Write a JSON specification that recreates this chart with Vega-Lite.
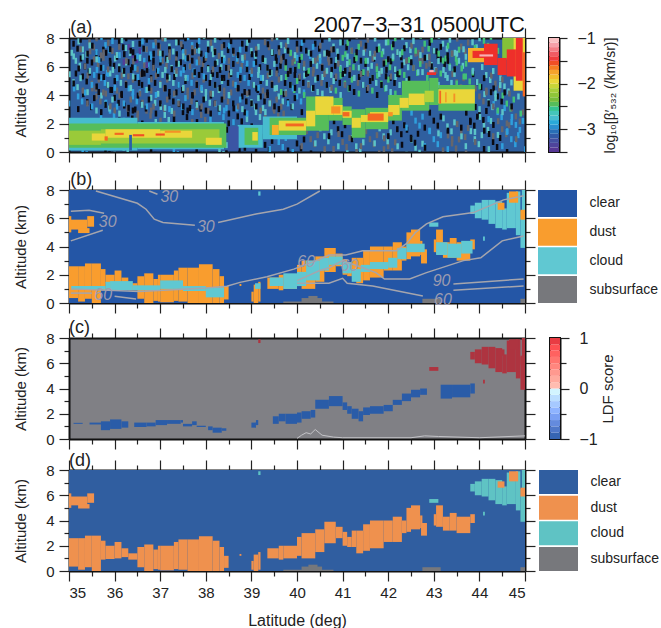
{"$schema":"https://vega.github.io/schema/vega-lite/v6.json","padding":{"left":13,"top":14,"right":0,"bottom":0},"spacing":4,"resolve":{"scale":{"color":"independent"}},
"config":{"font":"Liberation Sans","view":{"stroke":null},"rect":{"binSpacing":0},"axis":{"grid":false,"domainWidth":2,"domainColor":"#111","tickColor":"#222","tickWidth":1.2,"labelColor":"#222","titleColor":"#222","labelFontSize":15,"titleFontSize":15,"titleFontWeight":"normal","zindex":1},
"axisX":{"tickCount":20,"labels":false,"title":null,"tickSize":{"condition":{"test":"datum.value%1==0","value":10},"value":5}},
"axisY":{"tickCount":8,"tickSize":{"condition":{"test":"datum.value%2==0","value":10},"value":5}}},
"datasets":{
"noise":[{"x":35.1,"y":7.6,"v":-3.8},{"x":35.3,"y":7.2,"v":-2.7},{"x":35.45,"y":7.7,"v":-3.6},{"x":35.6,"y":6.9,"v":-3.8},{"x":35.8,"y":7.5,"v":-2.9},{"x":35.95,"y":7.1,"v":-3.6},{"x":36.1,"y":7.7,"v":-3.8},{"x":36.25,"y":7.3,"v":-2.7},{"x":36.4,"y":6.8,"v":-3.4},{"x":36.55,"y":7.6,"v":-3.8},{"x":36.7,"y":7.2,"v":-2.9},{"x":36.9,"y":7.7,"v":-3.6},{"x":37.05,"y":6.9,"v":-3.8},{"x":37.2,"y":7.4,"v":-2.7},{"x":37.4,"y":7.7,"v":-3.8},{"x":37.55,"y":7,"v":-3.6},{"x":37.7,"y":7.5,"v":-2.9},{"x":37.9,"y":6.9,"v":-3.8},{"x":38.05,"y":7.6,"v":-2.7},{"x":38.2,"y":7.1,"v":-3.6},{"x":38.4,"y":7.5,"v":-3.8},{"x":38.6,"y":6.9,"v":-2.9},{"x":38.8,"y":7.6,"v":-3.8},{"x":39,"y":7.1,"v":-2.7},{"x":39.3,"y":7.7,"v":-3.6},{"x":39.45,"y":7,"v":-3.8},{"x":39.65,"y":7.5,"v":-2.7},{"x":39.85,"y":6.9,"v":-3.6},{"x":40,"y":7.6,"v":-3.8},{"x":40.2,"y":7.1,"v":-2.9},{"x":40.4,"y":7.6,"v":-3.8},{"x":40.6,"y":6.9,"v":-3.6},{"x":40.8,"y":7.4,"v":-2.7},{"x":41,"y":7.7,"v":-3.8},{"x":41.2,"y":7.1,"v":-2.5},{"x":41.4,"y":7.6,"v":-3.6},{"x":41.6,"y":6.9,"v":-3.8},{"x":41.8,"y":7.4,"v":-2.7},{"x":42,"y":7.7,"v":-2.5},{"x":42.2,"y":7,"v":-3.8},{"x":42.4,"y":7.5,"v":-2.7},{"x":42.6,"y":6.9,"v":-3.6},{"x":42.8,"y":7.6,"v":-2.5},{"x":43,"y":7.1,"v":-3.8},{"x":43.2,"y":7.6,"v":-2.7},{"x":43.4,"y":6.9,"v":-2.5},{"x":43.6,"y":7.4,"v":-3.6},{"x":43.85,"y":7.7,"v":-2.7},{"x":44.1,"y":7.8,"v":-2.5},
{"x":35.15,"y":6.4,"v":-2.7},{"x":35.35,"y":6,"v":-3.8},{"x":35.55,"y":6.5,"v":-3.6},{"x":35.75,"y":5.9,"v":-2.9},{"x":35.9,"y":6.4,"v":-3.8},{"x":36.1,"y":6,"v":-2.7},{"x":36.3,"y":6.3,"v":-3.8},{"x":36.5,"y":5.8,"v":-3.6},{"x":36.65,"y":6.4,"v":-2.9},{"x":36.85,"y":6,"v":-3.8},{"x":37.05,"y":6.4,"v":-3.6},{"x":37.25,"y":5.9,"v":-2.7},{"x":37.45,"y":6.3,"v":-3.8},{"x":37.65,"y":6,"v":-2.9},{"x":37.85,"y":6.5,"v":-3.6},{"x":38.05,"y":5.9,"v":-3.8},{"x":38.25,"y":6.3,"v":-2.7},{"x":38.45,"y":5.9,"v":-3.8},{"x":38.7,"y":6.4,"v":-3.6},{"x":38.9,"y":5.9,"v":-2.9},{"x":39.1,"y":6.3,"v":-3.8},{"x":39.35,"y":5.9,"v":-2.7},{"x":39.55,"y":6.4,"v":-3.8},{"x":39.75,"y":6,"v":-3.6},{"x":39.95,"y":6.4,"v":-2.5},{"x":40.15,"y":5.9,"v":-3.8},{"x":40.35,"y":6.4,"v":-2.7},{"x":40.55,"y":6,"v":-3.6},{"x":40.75,"y":6.4,"v":-3.8},{"x":40.95,"y":5.9,"v":-2.7},{"x":41.15,"y":6.3,"v":-2.5},{"x":41.35,"y":5.9,"v":-3.8},{"x":41.55,"y":6.4,"v":-2.7},{"x":41.75,"y":6,"v":-3.6},{"x":41.95,"y":6.3,"v":-2.5},{"x":42.15,"y":5.8,"v":-3.8},{"x":42.35,"y":6.3,"v":-2.7},{"x":42.55,"y":5.9,"v":-2.5},{"x":42.75,"y":6.4,"v":-3.6},{"x":42.95,"y":6.1,"v":-2.7},{"x":43.15,"y":6.5,"v":-3.8},{"x":43.35,"y":6,"v":-2.5},{"x":43.55,"y":6.4,"v":-2.7},
{"x":35.1,"y":4.9,"v":-2.7},{"x":35.3,"y":5.3,"v":-3.8},{"x":35.5,"y":4.8,"v":-3.6},{"x":35.7,"y":5.2,"v":-2.9},{"x":35.85,"y":4.7,"v":-3.8},{"x":36.05,"y":5.2,"v":-2.7},{"x":36.25,"y":4.8,"v":-3.6},{"x":36.45,"y":5.2,"v":-3.8},{"x":36.6,"y":4.7,"v":-2.9},{"x":36.8,"y":5.2,"v":-3.8},{"x":37,"y":4.8,"v":-3.6},{"x":37.2,"y":5.2,"v":-2.7},{"x":37.4,"y":4.7,"v":-3.8},{"x":37.6,"y":5.2,"v":-2.9},{"x":37.8,"y":4.8,"v":-3.6},{"x":38,"y":5.2,"v":-3.8},{"x":38.2,"y":4.7,"v":-2.7},{"x":38.4,"y":5.2,"v":-3.8},{"x":38.6,"y":4.8,"v":-3.6},{"x":38.85,"y":5.2,"v":-2.9},{"x":39.05,"y":4.7,"v":-3.8},{"x":39.25,"y":5.2,"v":-2.7},{"x":39.45,"y":4.8,"v":-3.6},{"x":39.65,"y":5.2,"v":-3.8},{"x":39.85,"y":4.7,"v":-2.5},{"x":40.05,"y":5.2,"v":-3.8},{"x":40.25,"y":4.8,"v":-2.7},{"x":40.45,"y":5.2,"v":-3.6},{"x":40.65,"y":4.7,"v":-2.7},{"x":40.85,"y":5.2,"v":-3.8},{"x":41.05,"y":4.8,"v":-2.5},{"x":41.25,"y":5.2,"v":-3.6},{"x":41.45,"y":4.7,"v":-3.8},{"x":41.65,"y":5.2,"v":-2.7},{"x":41.85,"y":4.8,"v":-2.5},{"x":42.05,"y":5.2,"v":-3.8},{"x":42.25,"y":4.7,"v":-2.7},{"x":43.3,"y":5.2,"v":-2.7},{"x":43.5,"y":4.9,"v":-3.6},{"x":43.7,"y":5.3,"v":-2.5},{"x":43.95,"y":4.9,"v":-3.8},{"x":44.15,"y":5.4,"v":-2.7},{"x":44.35,"y":4.8,"v":-3.6},{"x":44.55,"y":4.6,"v":-2.7},
{"x":35.2,"y":3.9,"v":-2.9},{"x":35.4,"y":3.5,"v":-3.8},{"x":35.6,"y":3.9,"v":-3.6},{"x":35.8,"y":3.4,"v":-2.7},{"x":36,"y":3.8,"v":-3.8},{"x":36.2,"y":3.4,"v":-3.6},{"x":36.4,"y":3.9,"v":-2.9},{"x":36.6,"y":3.4,"v":-3.8},{"x":36.8,"y":3.8,"v":-2.7},{"x":37,"y":3.4,"v":-3.6},{"x":37.2,"y":3.9,"v":-3.8},{"x":37.4,"y":3.5,"v":-2.9},{"x":37.6,"y":3.9,"v":-3.6},{"x":37.8,"y":3.4,"v":-3.8},{"x":38,"y":3.8,"v":-2.7},{"x":38.2,"y":3.4,"v":-3.8},{"x":38.4,"y":3.9,"v":-3.6},{"x":38.6,"y":3.4,"v":-2.9},{"x":38.8,"y":3.9,"v":-3.8},{"x":39,"y":3.5,"v":-2.7},{"x":39.2,"y":3.9,"v":-3.8},{"x":39.4,"y":3.4,"v":-3.6},{"x":39.6,"y":3.9,"v":-2.7},{"x":39.8,"y":3.5,"v":-3.8},{"x":40,"y":3.9,"v":-2.9},{"x":44,"y":3.9,"v":-3.6},{"x":44.2,"y":3.5,"v":-2.7},{"x":44.4,"y":3.9,"v":-3.8},{"x":44.6,"y":3.4,"v":-2.5},
{"x":35.9,"y":2.9,"v":-2.9},{"x":36.3,"y":2.7,"v":-3.8},{"x":36.7,"y":2.9,"v":-3.6},{"x":37.1,"y":2.6,"v":-2.7},{"x":37.5,"y":2.8,"v":-3.8},{"x":37.9,"y":2.6,"v":-3.6},{"x":38.3,"y":2.8,"v":-2.9},{"x":38.7,"y":2.5,"v":-3.8},{"x":39.1,"y":2.8,"v":-2.7},{"x":39.5,"y":2.9,"v":-3.6},{"x":44,"y":2.6,"v":-3.8},{"x":44.4,"y":2.8,"v":-2.9},{"x":44.8,"y":2.5,"v":-3.6},
{"x":43.8,"y":2.2,"v":-3.8},{"x":44.1,"y":1.9,"v":-2.7},{"x":44.5,"y":1.6,"v":-3.6},{"x":44.8,"y":1.9,"v":-2.9},{"x":43,"y":2.2,"v":-3.8},{"x":43.3,"y":1.8,"v":-2.7},{"x":43.6,"y":1.4,"v":-3.6},{"x":42.6,"y":2.2,"v":-2.9},{"x":42.2,"y":1.6,"v":-3.8},{"x":41.9,"y":1.1,"v":-2.7},{"x":41.6,"y":0.9,"v":-3.6},{"x":42.5,"y":1,"v":-3.8},{"x":43,"y":0.9,"v":-2.9},{"x":43.4,"y":0.6,"v":-3.6},{"x":43.9,"y":0.9,"v":-2.7},{"x":44.3,"y":0.7,"v":-3.8},{"x":44.7,"y":0.9,"v":-2.9},{"x":40.9,"y":1.6,"v":-3.8},{"x":40.6,"y":1.1,"v":-2.7},{"x":40.3,"y":0.9,"v":-3.6},{"x":40,"y":0.6,"v":-3.8},{"x":39.6,"y":0.7,"v":-2.9},{"x":39.3,"y":0.5,"v":-3.8},{"x":41,"y":0.7,"v":-3.6},{"x":41.3,"y":0.4,"v":-2.7},{"x":42,"y":0.4,"v":-3.6},{"x":42.6,"y":0.3,"v":-2.7},{"x":35.3,"y":0.2,"v":-2.9},{"x":35.8,"y":0.2,"v":-3.8},{"x":36.2,"y":0.3,"v":-2.7},{"x":36.8,"y":0.15,"v":-3.8},{"x":37.3,"y":0.2,"v":-2.9},{"x":37.8,"y":0.15,"v":-3.8},{"x":38.3,"y":0.2,"v":-2.7},{"x":38.55,"y":1,"v":-3.8},{"x":38.65,"y":0.4,"v":-3.8}],
"dust":[{"x":35,"x2":35.4,"y":5.2,"y2":5.9,"c":"dust"},{"x":35,"x2":35.05,"y":5.0,"y2":6.15,"c":"dust"},{"x":35.2,"x2":35.45,"y":4.95,"y2":5.3,"c":"dust"},{"x":35.4,"x2":35.55,"y":5.4,"y2":6.15,"c":"dust"},
{"x":35,"x2":35.2,"y":0.35,"y2":2.6,"c":"dust"},{"x":35.2,"x2":35.35,"y":0.1,"y2":2.6,"c":"dust"},{"x":35.35,"x2":35.5,"y":0.3,"y2":2.8,"c":"dust"},{"x":35.5,"x2":35.7,"y":0,"y2":2.8,"c":"dust"},{"x":35.7,"x2":35.8,"y":0.9,"y2":2.4,"c":"dust"},{"x":35.8,"x2":36,"y":0.95,"y2":2.0,"c":"dust"},{"x":36,"x2":36.15,"y":1,"y2":2.3,"c":"dust"},{"x":36.15,"x2":36.3,"y":1.1,"y2":1.8,"c":"dust"},{"x":36.3,"x2":36.5,"y":0.9,"y2":1.4,"c":"dust"},{"x":36.5,"x2":36.65,"y":0.3,"y2":1.9,"c":"dust"},{"x":36.65,"x2":36.85,"y":0,"y2":2.1,"c":"dust"},{"x":36.85,"x2":36.95,"y":0.15,"y2":1.7,"c":"dust"},{"x":36.95,"x2":37,"y":0.1,"y2":2.0,"c":"dust"},{"x":37,"x2":37.3,"y":0.05,"y2":2.0,"c":"dust"},{"x":37.3,"x2":37.4,"y":0.15,"y2":2.3,"c":"dust"},{"x":37.4,"x2":37.6,"y":0.1,"y2":2.5,"c":"dust"},{"x":37.6,"x2":37.85,"y":0,"y2":2.5,"c":"dust"},{"x":37.85,"x2":38.15,"y":0,"y2":2.75,"c":"dust"},{"x":38.15,"x2":38.3,"y":0,"y2":2.4,"c":"dust"},{"x":38.3,"x2":38.4,"y":0,"y2":1.9,"c":"dust"},{"x":38.4,"x2":38.5,"y":0.25,"y2":1.2,"c":"dust"},{"x":38.74,"x2":38.78,"y":1.2,"y2":1.35,"c":"dust"},
{"x":39,"x2":39.05,"y":0.1,"y2":0.8,"c":"dust"},{"x":39.05,"x2":39.15,"y":0,"y2":1.3,"c":"dust"},{"x":39.15,"x2":39.2,"y":0.1,"y2":1.5,"c":"dust"},{"x":39.35,"x2":39.6,"y":1,"y2":1.8,"c":"dust"},{"x":39.6,"x2":39.7,"y":0.9,"y2":2,"c":"dust"},{"x":39.7,"x2":40,"y":1,"y2":2,"c":"dust"},{"x":40,"x2":40.1,"y":1.2,"y2":2.7,"c":"dust"},{"x":40.1,"x2":40.4,"y":1,"y2":3,"c":"dust"},{"x":40.4,"x2":40.6,"y":1.5,"y2":3.3,"c":"dust"},{"x":40.6,"x2":40.85,"y":2.2,"y2":3.9,"c":"dust"},{"x":40.85,"x2":41,"y":2.6,"y2":3.5,"c":"dust"},{"x":41,"x2":41.1,"y":2,"y2":3.1,"c":"dust"},{"x":41.1,"x2":41.2,"y":1.9,"y2":2.7,"c":"dust"},{"x":41.2,"x2":41.3,"y":1.9,"y2":3.2,"c":"dust"},{"x":41.3,"x2":41.45,"y":1.4,"y2":3.2,"c":"dust"},{"x":41.45,"x2":41.6,"y":1.6,"y2":3.7,"c":"dust"},{"x":41.6,"x2":41.9,"y":1.8,"y2":4,"c":"dust"},{"x":41.9,"x2":42.1,"y":2.3,"y2":4,"c":"dust"},{"x":42.1,"x2":42.3,"y":2.3,"y2":4.3,"c":"dust"},{"x":42.3,"x2":42.4,"y":3,"y2":4,"c":"dust"},{"x":42.4,"x2":42.5,"y":3.1,"y2":5,"c":"dust"},{"x":42.5,"x2":42.7,"y":3.3,"y2":5.2,"c":"dust"},{"x":42.7,"x2":42.75,"y":3.4,"y2":4.4,"c":"dust"},{"x":42.72,"x2":42.85,"y":2.8,"y2":3.8,"c":"dust"},{"x":43,"x2":43.05,"y":3.6,"y2":4.5,"c":"dust"},{"x":43.05,"x2":43.2,"y":3.5,"y2":5.2,"c":"dust"},{"x":43.2,"x2":43.35,"y":3.2,"y2":4.3,"c":"dust"},{"x":43.35,"x2":43.5,"y":3.2,"y2":4.6,"c":"dust"},{"x":43.5,"x2":43.8,"y":3,"y2":4.3,"c":"dust"},{"x":43.8,"x2":43.9,"y":3.8,"y2":4.5,"c":"dust"}],
"top":[{"x":43.8,"x2":43.9,"y":6.3,"y2":6.9,"c":"cloud"},{"x":43.9,"x2":44.05,"y":6,"y2":7.1,"c":"cloud"},{"x":44.05,"x2":44.2,"y":5.9,"y2":7.3,"c":"cloud"},{"x":44.2,"x2":44.35,"y":5.6,"y2":7.3,"c":"cloud"},{"x":44.35,"x2":44.5,"y":5.3,"y2":7.2,"c":"cloud"},{"x":44.5,"x2":44.6,"y":5.2,"y2":6.7,"c":"cloud"},{"x":44.6,"x2":44.8,"y":5.3,"y2":7.8,"c":"cloud"},{"x":44.8,"x2":44.9,"y":4.8,"y2":7.9,"c":"cloud"},{"x":44.9,"x2":45,"y":3.9,"y2":6.5,"c":"cloud"},{"x":44.93,"x2":45,"y":6.5,"y2":8,"c":"cloud"},{"x":42.9,"x2":43.1,"y":5.4,"y2":5.7,"c":"cloud"},{"x":44.08,"x2":44.12,"y":4.4,"y2":4.7,"c":"cloud"},{"x":39.15,"x2":39.2,"y":7.6,"y2":7.9,"c":"cloud"},{"x":44.4,"x2":44.55,"y":6.6,"y2":7.1,"c":"dust"},{"x":44.65,"x2":44.85,"y":7.1,"y2":7.9,"c":"dust"},{"x":44.9,"x2":45,"y":5.9,"y2":6.6,"c":"dust"}],
"sub":[{"x":39.7,"x2":40.8,"y":0,"y2":0.1,"c":"subsurface"},{"x":40.1,"x2":40.55,"y":0,"y2":0.35,"c":"subsurface"},{"x":40.25,"x2":40.45,"y":0,"y2":0.5,"c":"subsurface"},{"x":42.75,"x2":43.15,"y":0,"y2":0.3,"c":"subsurface"},{"x":44.9,"x2":45,"y":0,"y2":0.3,"c":"subsurface"}],
"base":[{"x":35,"x2":45,"y":0,"y2":8,"c":"clear"}],
"sw":[{"c":"clear"},{"c":"dust"},{"c":"cloud"},{"c":"subsurface"}]},
"vconcat":[{"spacing":8,"resolve":{"scale":{"color":"independent"}},"vconcat":[
{"spacing":12,"resolve":{"scale":{"color":"independent"}},"hconcat":[
{"width":456,"height":114,"view":{"fill":"#2f5f9f"},"resolve":{"axis":{"x":"independent","y":"independent"}},
"encoding":{"x":{"field":"x","type":"quantitative","axis":null},"y":{"field":"y","type":"quantitative","axis":null},"color":{"field":"v","type":"quantitative","legend":null,"scale":{"domain":[-3.8,-3.6,-3.5,-3.3,-3.1,-2.9,-2.7,-2.4,-2.14,-1.96,-1.74,-1.5,-1.33,-1.15,-1],"range":["#0a0a12","#66666c","#5a2f8f","#4a4a9e","#2a5fa8","#2f9fdc","#5cc4c8","#6db83a","#a8cf3a","#e8d93c","#f5a02c","#ee2f2a","#f0606a","#f6a0a8","#f9d0d0"]}}},
"layer":[
{"data":{"name":"noise"},"mark":{"type":"rect","clip":true,"width":2.5,"height":6},"encoding":{"x":{"field":"x","type":"quantitative","scale":{"domain":[35,45],"nice":false,"zero":false},"axis":{"orient":"bottom"}},"y":{"field":"y","type":"quantitative","scale":{"domain":[0,8],"nice":false,"zero":false},"axis":{"orient":"left","title":"Altitude (km)","labelExpr":"datum.value%2==0?datum.label:''","labelPadding":5,"titlePadding":17}}}},
{"data":{"name":"noise"},"mark":{"type":"rect","clip":true,"width":2.5,"height":6,"xOffset":4,"yOffset":5}},
{"data":{"name":"noise"},"mark":{"type":"rect","clip":true,"width":2.5,"height":6,"xOffset":-4,"yOffset":-8}},
{"data":{"name":"noise"},"mark":{"type":"rect","clip":true,"width":2.5,"height":6,"xOffset":7,"yOffset":-4}},
{"data":{"name":"noise"},"mark":{"type":"rect","clip":true,"width":2.5,"height":6,"xOffset":-9,"yOffset":7}},
{"data":{"name":"noise"},"mark":{"type":"rect","clip":true,"width":2.5,"height":6,"xOffset":14,"yOffset":10}},
{"data":{"values":[{"x":35,"x2":36.5,"y":0.1,"y2":2.4,"v":-2.75},{"x":36.5,"x2":38.4,"y":0.2,"y2":2.1,"v":-2.75},{"x":38.7,"x2":39.25,"y":0.3,"y2":1.9,"v":-2.75},{"x":39.25,"x2":40,"y":0.9,"y2":2.5,"v":-2.75},{"x":35,"x2":38.45,"y":0.3,"y2":2,"v":-2.45},{"x":38.85,"x2":39.15,"y":0.5,"y2":1.7,"v":-2.45},{"x":39.4,"x2":40.2,"y":1.2,"y2":2.4,"v":-2.45},{"x":40.2,"x2":40.7,"y":1.5,"y2":3.9,"v":-2.45},{"x":40.7,"x2":41,"y":2.2,"y2":3.8,"v":-2.45},{"x":41,"x2":41.2,"y":1.9,"y2":3.2,"v":-2.45},{"x":41.2,"x2":41.5,"y":1,"y2":3,"v":-2.45},{"x":41.5,"x2":42,"y":1.6,"y2":3.1,"v":-2.45},{"x":42,"x2":42.3,"y":2.2,"y2":4,"v":-2.45},{"x":42.3,"x2":42.9,"y":2.9,"y2":5,"v":-2.45},{"x":42.9,"x2":43.1,"y":3.3,"y2":5.2,"v":-2.45},{"x":43.1,"x2":43.9,"y":2.9,"y2":4.7,"v":-2.45},
{"x":35,"x2":35.7,"y":0.5,"y2":1.5,"v":-2.2},{"x":35.7,"x2":38.3,"y":0.6,"y2":1.6,"v":-2.2},{"x":35.5,"x2":35.8,"y":0.8,"y2":1.3,"v":-1.95},{"x":35.8,"x2":37,"y":1,"y2":1.6,"v":-1.95},{"x":37,"x2":37.7,"y":1,"y2":1.5,"v":-1.95},{"x":38,"x2":38.35,"y":0.5,"y2":1,"v":-1.95},{"x":39.02,"x2":39.14,"y":0.8,"y2":1.4,"v":-1.95},{"x":39.45,"x2":39.6,"y":1.2,"y2":1.9,"v":-1.8},{"x":39.6,"x2":40.2,"y":1.5,"y2":2.2,"v":-1.95},{"x":40.2,"x2":40.4,"y":1.8,"y2":2.9,"v":-1.95},{"x":40.4,"x2":40.8,"y":2.6,"y2":3.9,"v":-1.95},{"x":40.8,"x2":41,"y":2.6,"y2":3.3,"v":-1.95},{"x":41,"x2":41.2,"y":2.4,"y2":2.9,"v":-1.95},{"x":41.2,"x2":41.4,"y":1.7,"y2":2.4,"v":-1.95},{"x":41.4,"x2":41.6,"y":2.1,"y2":2.6,"v":-1.95},{"x":41.6,"x2":42,"y":2.1,"y2":2.8,"v":-1.95},{"x":42,"x2":42.25,"y":2.6,"y2":3.3,"v":-1.95},{"x":42.25,"x2":42.45,"y":3.1,"y2":3.8,"v":-1.95},{"x":42.45,"x2":42.8,"y":3.3,"y2":4.1,"v":-1.95},{"x":42.8,"x2":43,"y":3.5,"y2":4.3,"v":-2.1},{"x":43.1,"x2":43.9,"y":3.4,"y2":4.4,"v":-1.95},
{"x":35.78,"x2":35.85,"y":0.8,"y2":1.1,"v":-1.6},{"x":36,"x2":36.2,"y":1.2,"y2":1.35,"v":-1.6},{"x":36.4,"x2":36.65,"y":1.1,"y2":1.25,"v":-1.55},{"x":36.9,"x2":37.1,"y":1.15,"y2":1.3,"v":-1.55},{"x":37.1,"x2":37.45,"y":1.35,"y2":1.5,"v":-1.7},{"x":39.75,"x2":40.15,"y":1.8,"y2":2,"v":-1.6},{"x":40.75,"x2":40.95,"y":2.7,"y2":3.2,"v":-1.7},{"x":41,"x2":41.15,"y":2.5,"y2":2.8,"v":-1.6},{"x":41.55,"x2":41.9,"y":2.2,"y2":2.7,"v":-1.6},{"x":42,"x2":42.1,"y":2.5,"y2":2.8,"v":-1.7},{"x":43.12,"x2":43.16,"y":3.4,"y2":4.3,"v":-1.6},{"x":43.25,"x2":43.28,"y":3.5,"y2":4.2,"v":-1.7},{"x":43.43,"x2":43.47,"y":3.5,"y2":4.1,"v":-1.7},
{"x":36.32,"x2":36.38,"y":0.1,"y2":1.2,"v":-3.1},{"x":38.5,"x2":38.72,"y":0.1,"y2":1.8,"v":-3.2},{"x":42.85,"x2":43.05,"y":5.4,"y2":5.6,"v":-1.5},{"x":42.9,"x2":43,"y":5.6,"y2":5.75,"v":-1.1},
{"x":44.5,"x2":45,"y":6.5,"y2":8,"v":-2.3},{"x":44.75,"x2":45,"y":4.3,"y2":8,"v":-1.95},{"x":43.75,"x2":44.2,"y":6.3,"y2":7.3,"v":-1.8},{"x":43.85,"x2":44.1,"y":6.6,"y2":7.1,"v":-1.5},{"x":44.1,"x2":44.4,"y":6.1,"y2":7.6,"v":-1.5},{"x":44.4,"x2":44.6,"y":5.4,"y2":6.6,"v":-1.5},{"x":44.6,"x2":44.8,"y":5.3,"y2":7.2,"v":-1.5},{"x":44.8,"x2":44.95,"y":5,"y2":8,"v":-1.5},{"x":44.95,"x2":45,"y":3.9,"y2":7,"v":-1.6},{"x":44,"x2":44.3,"y":6.7,"y2":6.85,"v":-1.1}]},
"mark":{"type":"rect","clip":true},"encoding":{"x2":{"field":"x2"},"y2":{"field":"y2"}}},
{"data":{"values":[{"x":45,"y":8.4,"t":"2007−3−31 0500UTC"}]},"mark":{"type":"text","fontSize":22,"baseline":"alphabetic","align":"right"},"encoding":{"text":{"field":"t"},"color":{"value":"#111"}}},
{"data":{"values":[{"x":35.03,"y":8.35,"t":"(a)"}]},"mark":{"type":"text","fontSize":18,"baseline":"alphabetic","align":"left"},"encoding":{"color":{"value":"#222"},"text":{"field":"t"},
"x":{"field":"x","type":"quantitative","scale":{"domain":[35,45],"nice":false,"zero":false},"axis":{"orient":"top"}},"y":{"field":"y","type":"quantitative","scale":{"domain":[0,8],"nice":false,"zero":false},"axis":{"orient":"right","labels":false,"title":null}}}}
]},
{"width":10,"height":114,"data":{"values":[{"y":-3.5,"y2":-3.4,"v":-3.45},{"y":-3.4,"y2":-3.3,"v":-3.35},{"y":-3.3,"y2":-3.2,"v":-3.25},{"y":-3.2,"y2":-3.1,"v":-3.15},{"y":-3.1,"y2":-3,"v":-3.05},{"y":-3,"y2":-2.9,"v":-2.95},{"y":-2.9,"y2":-2.8,"v":-2.85},{"y":-2.8,"y2":-2.7,"v":-2.75},{"y":-2.7,"y2":-2.6,"v":-2.65},{"y":-2.6,"y2":-2.5,"v":-2.55},{"y":-2.5,"y2":-2.4,"v":-2.45},{"y":-2.4,"y2":-2.3,"v":-2.35},{"y":-2.3,"y2":-2.2,"v":-2.25},{"y":-2.2,"y2":-2.1,"v":-2.15},{"y":-2.1,"y2":-2,"v":-2.05},{"y":-2,"y2":-1.9,"v":-1.95},{"y":-1.9,"y2":-1.8,"v":-1.85},{"y":-1.8,"y2":-1.7,"v":-1.75},{"y":-1.7,"y2":-1.6,"v":-1.65},{"y":-1.6,"y2":-1.5,"v":-1.55},{"y":-1.5,"y2":-1.4,"v":-1.45},{"y":-1.4,"y2":-1.3,"v":-1.35},{"y":-1.3,"y2":-1.2,"v":-1.25},{"y":-1.2,"y2":-1.1,"v":-1.15},{"y":-1.1,"y2":-1,"v":-1.05}]},"mark":"rect","view":{"stroke":"#111","strokeWidth":2},"encoding":{"y":{"field":"y","type":"quantitative","scale":{"domain":[-3.5,-1],"nice":false,"zero":false},"axis":{"orient":"right","values":[-1,-1.5,-2,-2.5,-3,-3.5],"title":"log₁₀[β′₅₃₂ (/km/sr)]","titleAngle":270,"titleFontSize":14,"labelExpr":"datum.value==-1?'−1':datum.value==-2?'−2':datum.value==-3?'−3':''","labelFontSize":16,"labelPadding":10,"titlePadding":22,"tickSize":8}},"y2":{"field":"y2"},"color":{"field":"v","type":"quantitative","legend":null,"scale":{"domain":[-3.5,-3.3,-3.1,-2.9,-2.7,-2.4,-2.14,-1.96,-1.74,-1.5,-1.33,-1.15,-1],"range":["#5a2f8f","#4a4a9e","#2a5fa8","#2f9fdc","#5cc4c8","#6db83a","#a8cf3a","#e8d93c","#f5a02c","#ee2f2a","#f0606a","#f6a0a8","#f9d0d0"]}}}}
]},
{"spacing":2,"resolve":{"scale":{"color":"independent"}},"hconcat":[
{"width":456,"height":113,"resolve":{"axis":{"x":"independent","y":"independent"}},
"encoding":{"x":{"field":"x","type":"quantitative","axis":null},"y":{"field":"y","type":"quantitative","axis":null},"color":{"field":"c","type":"nominal","legend":null,"scale":{"domain":["clear","dust","cloud","subsurface"],"range":["#2456a6","#f99d2e","#60c8d2","#77787c"]}}},
"layer":[
{"data":{"name":"base"},"mark":"rect","encoding":{"x":{"field":"x","type":"quantitative","scale":{"domain":[35,45],"nice":false,"zero":false},"axis":{"orient":"bottom"}},"x2":{"field":"x2"},"y":{"field":"y","type":"quantitative","scale":{"domain":[0,8],"nice":false,"zero":false},"axis":{"orient":"left","title":"Altitude (km)","labelExpr":"datum.value%2==0?datum.label:''","labelPadding":5,"titlePadding":17}},"y2":{"field":"y2"}}},
{"data":{"name":"dust"},"mark":"rect","encoding":{"x2":{"field":"x2"},"y2":{"field":"y2"}}},
{"data":{"values":[{"x":35.05,"x2":35.8,"y":0.95,"y2":1.2,"c":"cloud"},{"x":35.8,"x2":35.9,"y":0.85,"y2":1.5,"c":"cloud"},{"x":35.9,"x2":36.4,"y":0.9,"y2":1.55,"c":"cloud"},{"x":36.4,"x2":37,"y":0.9,"y2":1.25,"c":"cloud"},{"x":37,"x2":37.5,"y":1,"y2":1.6,"c":"cloud"},{"x":37.5,"x2":38,"y":0.85,"y2":1.2,"c":"cloud"},{"x":38,"x2":38.4,"y":0.4,"y2":1.1,"c":"cloud"},{"x":39.08,"x2":39.2,"y":1,"y2":1.4,"c":"cloud"},{"x":39.4,"x2":39.7,"y":1.2,"y2":1.8,"c":"cloud"},{"x":39.7,"x2":40,"y":1,"y2":2.1,"c":"cloud"},{"x":40,"x2":40.2,"y":1.2,"y2":2.2,"c":"cloud"},{"x":40.2,"x2":40.5,"y":1.6,"y2":3,"c":"cloud"},{"x":40.5,"x2":40.7,"y":2.3,"y2":3.2,"c":"cloud"},{"x":40.7,"x2":41,"y":2.7,"y2":3.3,"c":"cloud"},{"x":41,"x2":41.2,"y":2.1,"y2":2.9,"c":"cloud"},{"x":41.2,"x2":41.4,"y":1.5,"y2":2.4,"c":"cloud"},{"x":41.4,"x2":41.6,"y":2.2,"y2":2.7,"c":"cloud"},{"x":41.6,"x2":42,"y":2.4,"y2":2.9,"c":"cloud"},{"x":42,"x2":42.2,"y":2.5,"y2":3.2,"c":"cloud"},{"x":42.2,"x2":42.4,"y":3.1,"y2":3.9,"c":"cloud"},{"x":42.4,"x2":42.8,"y":3.6,"y2":4.2,"c":"cloud"},{"x":43.05,"x2":43.3,"y":3.4,"y2":4.3,"c":"cloud"},{"x":43.3,"x2":43.6,"y":3.2,"y2":4.2,"c":"cloud"},{"x":43.6,"x2":43.85,"y":3.5,"y2":4.4,"c":"cloud"}]},"mark":"rect","encoding":{"x2":{"field":"x2"},"y2":{"field":"y2"}}},
{"data":{"name":"top"},"mark":"rect","encoding":{"x2":{"field":"x2"},"y2":{"field":"y2"}}},
{"data":{"name":"sub"},"mark":"rect","encoding":{"x2":{"field":"x2"},"y2":{"field":"y2"}}},
{"data":{"values":[{"g":1,"x":35.59,"y":7.93},{"g":1,"x":36.5,"y":7.06},{"g":1,"x":36.69,"y":6.64},{"g":1,"x":36.87,"y":5.93},{"g":1,"x":37.06,"y":5.7},{"g":1,"x":37.76,"y":5.5},{"g":2,"x":38.27,"y":5.7},{"g":2,"x":39.1,"y":6.3},{"g":2,"x":39.7,"y":6.64},{"g":2,"x":40,"y":7},{"g":2,"x":40.5,"y":7.93},{"g":3,"x":36.76,"y":7.93},{"g":3,"x":36.94,"y":7.7},{"g":4,"x":35.04,"y":6.5},{"g":4,"x":35.44,"y":6.56},{"g":4,"x":35.77,"y":6.35},{"g":5,"x":35.04,"y":4.4},{"g":5,"x":35.74,"y":5.15},{"g":6,"x":35.04,"y":0.7},{"g":6,"x":35.5,"y":0.7},{"g":7,"x":36,"y":0.47},{"g":7,"x":36.47,"y":0.28},{"g":8,"x":35.04,"y":1.0},{"g":8,"x":36.54,"y":0.82},{"g":8,"x":37.28,"y":0.94},{"g":8,"x":38,"y":1.06},{"g":8,"x":38.46,"y":1.18},{"g":8,"x":38.75,"y":1.46},{"g":8,"x":39.34,"y":1.86},{"g":8,"x":39.93,"y":2.4},{"g":8,"x":40.5,"y":3.1},{"g":8,"x":40.7,"y":3.4},{"g":8,"x":41.07,"y":3.4},{"g":8,"x":41.44,"y":3.7},{"g":8,"x":42.18,"y":3.7},{"g":8,"x":42.4,"y":4.2},{"g":8,"x":42.6,"y":5},{"g":8,"x":42.84,"y":5.6},{"g":8,"x":43.2,"y":6.1},{"g":8,"x":43.87,"y":6.4},{"g":8,"x":44.53,"y":7.3},{"g":8,"x":44.97,"y":7.6},{"g":9,"x":40,"y":1.58},{"g":9,"x":40.5,"y":2.3},{"g":9,"x":40.7,"y":2.5},{"g":9,"x":41,"y":3},{"g":9,"x":41.44,"y":2.5},{"g":9,"x":41.73,"y":2.15},{"g":9,"x":41.92,"y":1.7},{"g":9,"x":42.47,"y":1.7},{"g":9,"x":42.84,"y":2.15},{"g":9,"x":43.65,"y":3},{"g":9,"x":44.03,"y":3.2},{"g":9,"x":44.5,"y":4.4},{"g":9,"x":44.97,"y":4.75},{"g":10,"x":40,"y":1.4},{"g":10,"x":40.7,"y":1.4},{"g":10,"x":41,"y":1.75},{"g":10,"x":41.1,"y":1.4},{"g":10,"x":41.66,"y":1.2},{"g":10,"x":42.76,"y":0.5},{"g":11,"x":43.43,"y":1.35},{"g":11,"x":44.97,"y":1.7},{"g":12,"x":43.43,"y":0.9},{"g":12,"x":44.97,"y":1.2}]},"mark":{"type":"line","strokeWidth":1.5},"encoding":{"detail":{"field":"g"},"color":{"value":"#a5a5ad"}}},
{"data":{"values":[{"x":35.85,"y":5.7,"t":"30"},{"x":38,"y":5.4,"t":"30"},{"x":37.2,"y":7.5,"t":"30"},{"x":35.75,"y":0.55,"t":"60"},{"x":40.2,"y":2.9,"t":"60"},{"x":41.15,"y":2.6,"t":"60"},{"x":43.17,"y":1.55,"t":"90"},{"x":43.2,"y":0.2,"t":"60"}]},"mark":{"type":"text","fontSize":16,"fontStyle":"italic"},"encoding":{"text":{"field":"t"},"color":{"value":"#9c9cb0"}}},
{"data":{"values":[{"x":35.03,"y":8.35,"t":"(b)"}]},"mark":{"type":"text","fontSize":18,"baseline":"alphabetic","align":"left"},"encoding":{"color":{"value":"#222"},"text":{"field":"t"},
"x":{"field":"x","type":"quantitative","scale":{"domain":[35,45],"nice":false,"zero":false},"axis":{"orient":"top"}},"y":{"field":"y","type":"quantitative","scale":{"domain":[0,8],"nice":false,"zero":false},"axis":{"orient":"right","labels":false,"title":null}}}}
]},
{"width":39,"height":113,"data":{"name":"sw"},"mark":"rect","encoding":{"y":{"field":"c","type":"nominal","sort":["clear","dust","cloud","subsurface"],"scale":{"paddingInner":0.06,"paddingOuter":0},"axis":{"orient":"right","title":null,"domain":false,"ticks":false,"labelPadding":12,"labelFontSize":14}},"color":{"field":"c","type":"nominal","legend":null,"scale":{"domain":["clear","dust","cloud","subsurface"],"range":["#2456a6","#f99d2e","#60c8d2","#77787c"]}}}}
]}
]},
{"spacing":2,"resolve":{"scale":{"color":"independent"}},"vconcat":[
{"spacing":13,"resolve":{"scale":{"color":"independent"}},"hconcat":[
{"width":456,"height":101,"view":{"fill":"#808085"},"resolve":{"axis":{"x":"independent","y":"independent"}},
"encoding":{"x":{"field":"x","type":"quantitative","axis":null},"y":{"field":"y","type":"quantitative","axis":null}},
"layer":[
{"data":{"name":"top"},"mark":{"type":"rect","color":"#ae3440"},"encoding":{"x":{"field":"x","type":"quantitative","scale":{"domain":[35,45],"nice":false,"zero":false},"axis":{"orient":"bottom"}},"x2":{"field":"x2"},"y":{"field":"y","type":"quantitative","scale":{"domain":[0,8],"nice":false,"zero":false},"axis":{"orient":"left","title":"Altitude (km)","labelExpr":"datum.value%2==0?datum.label:''","labelPadding":5,"titlePadding":17}},"y2":{"field":"y2"}}},
{"data":{"values":[{"x":35.1,"x2":35.3,"y":1.2,"y2":1.28},{"x":35.45,"x2":35.7,"y":1.15,"y2":1.3},{"x":35.7,"x2":35.9,"y":0.7,"y2":1.4},{"x":35.9,"x2":36.15,"y":0.8,"y2":1.55},{"x":36.15,"x2":36.3,"y":0.9,"y2":1.4},{"x":36.43,"x2":36.7,"y":0.95,"y2":1.3},{"x":36.7,"x2":36.9,"y":1,"y2":1.3},{"x":36.9,"x2":37.15,"y":1.1,"y2":1.5},{"x":37.15,"x2":37.45,"y":1.2,"y2":1.5},{"x":37.45,"x2":37.5,"y":1.3,"y2":1.5},{"x":37.5,"x2":37.7,"y":1,"y2":1.2},{"x":37.7,"x2":37.8,"y":1.1,"y2":1.4},{"x":37.8,"x2":38,"y":0.95,"y2":1.05},{"x":38.05,"x2":38.15,"y":0.7,"y2":1},{"x":38.15,"x2":38.35,"y":0.5,"y2":0.9},{"x":38.35,"x2":38.45,"y":0.65,"y2":0.85},{"x":39,"x2":39.1,"y":0.9,"y2":1.3},{"x":39.1,"x2":39.15,"y":1.1,"y2":1.5},{"x":39.47,"x2":39.6,"y":1.2,"y2":1.8},{"x":39.6,"x2":39.75,"y":1.4,"y2":2},{"x":39.75,"x2":40,"y":1.2,"y2":2},{"x":40,"x2":40.1,"y":1.3,"y2":2.1},{"x":40.1,"x2":40.3,"y":1.6,"y2":2.2},{"x":40.3,"x2":40.4,"y":1.7,"y2":2.3},{"x":40.4,"x2":40.7,"y":2.4,"y2":3.1},{"x":40.7,"x2":41,"y":2.6,"y2":3.4},{"x":41,"x2":41.1,"y":2.3,"y2":2.9},{"x":41.1,"x2":41.2,"y":2,"y2":2.6},{"x":41.2,"x2":41.35,"y":1.6,"y2":2.4},{"x":41.35,"x2":41.45,"y":1.4,"y2":2.2},{"x":41.45,"x2":41.6,"y":1.9,"y2":2.5},{"x":41.6,"x2":41.9,"y":2,"y2":2.6},{"x":41.9,"x2":42.1,"y":2.2,"y2":2.7},{"x":42.1,"x2":42.3,"y":2.7,"y2":3.1},{"x":42.3,"x2":42.5,"y":3,"y2":3.6},{"x":42.5,"x2":42.7,"y":3.3,"y2":3.9},{"x":42.7,"x2":42.85,"y":3.5,"y2":4},{"x":43.15,"x2":43.4,"y":3.2,"y2":4.3},{"x":43.4,"x2":43.8,"y":3.3,"y2":4.3},{"x":43.8,"x2":43.9,"y":3.6,"y2":4.4}]},"mark":{"type":"rect","color":"#2a5ca8"},"encoding":{"x2":{"field":"x2"},"y2":{"field":"y2"}}},
{"data":{"values":[{"x":40,"y":0.05},{"x":40.1,"y":0.3},{"x":40.2,"y":0.5},{"x":40.3,"y":0.4},{"x":40.4,"y":0.75},{"x":40.55,"y":0.3},{"x":40.8,"y":0.15},{"x":41,"y":0.1},{"x":42.5,"y":0.1},{"x":42.8,"y":0.25},{"x":43.1,"y":0.2},{"x":44,"y":0.1},{"x":45,"y":0.25}]},"mark":{"type":"line","color":"#c4c4c8","strokeWidth":1}},
{"data":{"values":[{"x":35,"y":8.4,"t":"(c)"}]},"mark":{"type":"text","fontSize":18,"baseline":"alphabetic","align":"left","color":"#222"},"encoding":{"text":{"field":"t"},
"x":{"field":"x","type":"quantitative","scale":{"domain":[35,45],"nice":false,"zero":false},"axis":{"orient":"top"}},"y":{"field":"y","type":"quantitative","scale":{"domain":[0,8],"nice":false,"zero":false},"axis":{"orient":"right","labels":false,"title":null}}}}
]},
{"width":10,"height":101,"data":{"values":[{"y":-1,"y2":-0.875,"v":-0.94},{"y":-0.875,"y2":-0.75,"v":-0.81},{"y":-0.75,"y2":-0.625,"v":-0.69},{"y":-0.625,"y2":-0.5,"v":-0.56},{"y":-0.5,"y2":-0.375,"v":-0.44},{"y":-0.375,"y2":-0.25,"v":-0.31},{"y":-0.25,"y2":-0.125,"v":-0.19},{"y":-0.125,"y2":0,"v":-0.06},{"y":0,"y2":0.125,"v":0.06},{"y":0.125,"y2":0.25,"v":0.19},{"y":0.25,"y2":0.375,"v":0.31},{"y":0.375,"y2":0.5,"v":0.44},{"y":0.5,"y2":0.625,"v":0.56},{"y":0.625,"y2":0.75,"v":0.69},{"y":0.75,"y2":0.875,"v":0.81},{"y":0.875,"y2":1,"v":0.94}]},"mark":"rect","view":{"stroke":"#111","strokeWidth":2},"encoding":{"y":{"field":"y","type":"quantitative","scale":{"domain":[-1,1],"nice":false,"zero":false},"axis":{"orient":"right","values":[-1,-0.75,-0.5,-0.25,0,0.25,0.5,0.75,1],"title":"LDF score","titleAngle":270,"labelExpr":"datum.value==-1?'−1':datum.value==0?'0':datum.value==1?'1':''","labelFontSize":16,"labelPadding":10,"titlePadding":18,"tickSize":{"condition":{"test":"datum.value%1==0","value":9},"value":6}}},"y2":{"field":"y2"},"color":{"field":"v","type":"quantitative","legend":null,"scale":{"domain":[-1,0,1],"range":["#2a5ca8","#ffffff","#e0323c"]}}}}
]},
{"spacing":3,"resolve":{"scale":{"color":"independent"}},"hconcat":[
{"width":456,"height":101,"resolve":{"axis":{"x":"independent","y":"independent"}},
"encoding":{"x":{"field":"x","type":"quantitative","axis":null},"y":{"field":"y","type":"quantitative","axis":null},"color":{"field":"c","type":"nominal","legend":null,"scale":{"domain":["clear","dust","cloud","subsurface"],"range":["#305ea0","#ef914e","#5fc3c4","#77787c"]}}},
"layer":[
{"data":{"name":"base"},"mark":"rect","encoding":{"x":{"field":"x","type":"quantitative","scale":{"domain":[35,45],"nice":false,"zero":false},"axis":{"orient":"bottom","labels":true,"labelExpr":"datum.value%1==0?format(datum.value,'d'):''","labelPadding":4,"title":"Latitude (deg)","titleFontSize":16,"titlePadding":12}},"x2":{"field":"x2"},"y":{"field":"y","type":"quantitative","scale":{"domain":[0,8],"nice":false,"zero":false},"axis":{"orient":"left","title":"Altitude (km)","labelExpr":"datum.value%2==0?datum.label:''","labelPadding":5,"titlePadding":17}},"y2":{"field":"y2"}}},
{"data":{"name":"dust"},"mark":"rect","encoding":{"x2":{"field":"x2"},"y2":{"field":"y2"}}},
{"data":{"name":"top"},"mark":"rect","encoding":{"x2":{"field":"x2"},"y2":{"field":"y2"}}},
{"data":{"name":"sub"},"mark":"rect","encoding":{"x2":{"field":"x2"},"y2":{"field":"y2"}}},
{"data":{"values":[{"x":35,"y":8.3,"t":"(d)"}]},"mark":{"type":"text","fontSize":18,"baseline":"alphabetic","align":"left"},"encoding":{"color":{"value":"#222"},"text":{"field":"t"},
"x":{"field":"x","type":"quantitative","scale":{"domain":[35,45],"nice":false,"zero":false},"axis":{"orient":"top"}},"y":{"field":"y","type":"quantitative","scale":{"domain":[0,8],"nice":false,"zero":false},"axis":{"orient":"right","labels":false,"title":null}}}}
]},
{"width":39,"height":101,"data":{"name":"sw"},"mark":"rect","encoding":{"y":{"field":"c","type":"nominal","sort":["clear","dust","cloud","subsurface"],"scale":{"paddingInner":0.06,"paddingOuter":0},"axis":{"orient":"right","title":null,"domain":false,"ticks":false,"labelPadding":12,"labelFontSize":14}},"color":{"field":"c","type":"nominal","legend":null,"scale":{"domain":["clear","dust","cloud","subsurface"],"range":["#305ea0","#ef914e","#5fc3c4","#77787c"]}}}}
]}
]}
]}
